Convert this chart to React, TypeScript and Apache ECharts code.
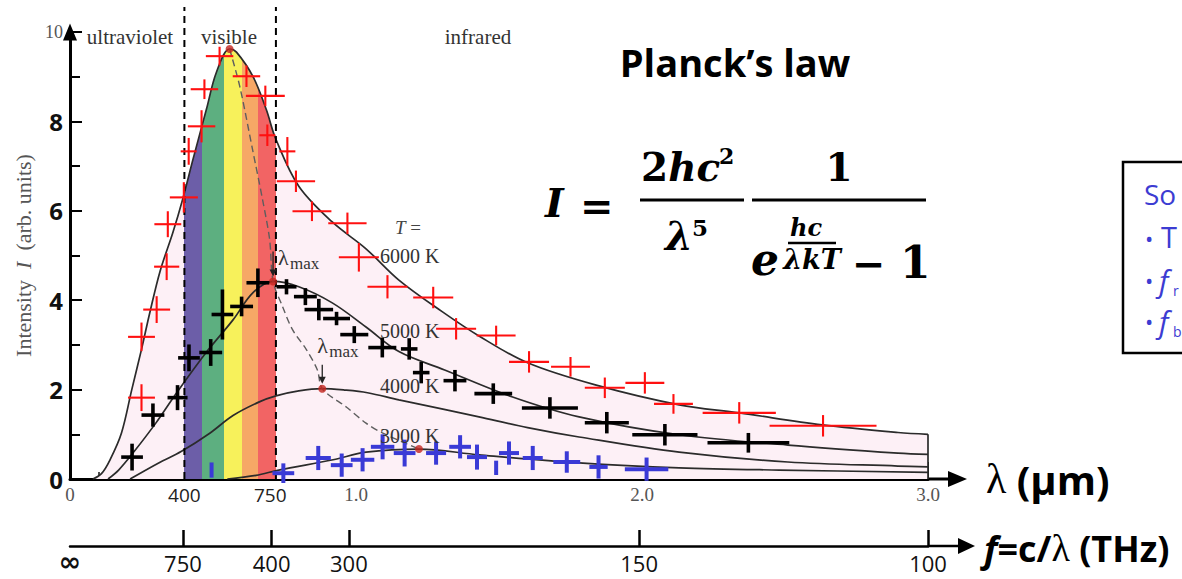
import React, { useEffect, useRef } from "react";
import * as echarts from "echarts";

// ---------------- data ----------------
const temperatureLabels = ["6000 K", "5000 K", "4000 K", "3000 K"];
const regionLabels = ["ultraviolet", "visible", "infrared"];
const xLabelValues = [0, 0.4, 0.7, 1.0, 2.0, 3.0];
const xLabelTexts = ["0", "400", "750", "1.0", "2.0", "3.0"];
const freqLabelValues = [0, 0.395, 0.705, 0.975, 1.99, 3.0];
const freqLabelTexts = ["\u221E", "750", "400", "300", "150", "100"];
const visibleBandEdges = [0.4, 0.46, 0.54, 0.6, 0.656, 0.72];
const dashedLineTop = 10.56;

const curve6000: number[][] = [
  [0.08, 0], [0.11, 0.12], [0.14, 0.43], [0.18, 1.03], [0.216, 2.0], [0.25, 2.9],
  [0.279, 3.72], [0.315, 4.65], [0.36, 5.52], [0.394, 6.26], [0.43, 7.15],
  [0.477, 8.27], [0.512, 9.1], [0.558, 9.62], [0.582, 9.55], [0.64, 9.0],
  [0.686, 8.27], [0.72, 7.6], [0.8, 6.55], [0.917, 5.75], [1.035, 5.15],
  [1.15, 4.45], [1.3, 3.75], [1.43, 3.2], [1.6, 2.6], [1.84, 2.1], [2.13, 1.66],
  [2.34, 1.48], [2.63, 1.21], [2.895, 1.04], [3.0, 1.0],
];
const curve5000: number[][] = [
  [0.133, 0], [0.17, 0.2], [0.22, 0.58], [0.3, 1.25], [0.373, 1.93], [0.476, 2.83],
  [0.57, 3.56], [0.64, 4.17], [0.71, 4.42], [0.8, 4.3], [0.917, 3.94], [1.035, 3.4],
  [1.15, 2.85], [1.31, 2.44], [1.545, 1.84], [1.78, 1.39], [2.13, 0.99],
  [2.51, 0.76], [2.895, 0.58], [3.0, 0.55],
];
const curve4000: number[][] = [
  [0.21, 0], [0.31, 0.36], [0.39, 0.62], [0.49, 1.03], [0.57, 1.42], [0.66, 1.72],
  [0.72, 1.86], [0.8, 1.97], [0.88, 2.02], [0.96, 1.99], [1.04, 1.93], [1.15, 1.77],
  [1.3, 1.57], [1.43, 1.39], [1.6, 1.15], [1.78, 0.94], [2.13, 0.6], [2.51, 0.38],
  [2.895, 0.29], [3.0, 0.27],
];
const curve3000: number[][] = [
  [0.55, 0], [0.65, 0.08], [0.73, 0.2], [0.92, 0.43], [1.035, 0.6], [1.22, 0.67],
  [1.43, 0.54], [1.78, 0.36], [2.13, 0.25], [2.48, 0.2], [3.0, 0.15],
];
const wienLocus: number[][] = [
  [0.558, 9.62], [0.593, 8.8], [0.638, 7.38], [0.673, 6.26], [0.698, 5.36],
  [0.71, 4.42], [0.743, 3.86], [0.778, 3.34], [0.827, 2.89], [0.865, 2.44],
  [0.882, 2.02], [0.966, 1.61], [1.035, 1.25], [1.092, 1.03], [1.22, 0.67],
];
const peaks: number[][] = [[0.558, 9.62], [0.71, 4.42], [0.882, 2.02], [1.22, 0.67]];

// [lambda, intensity, lambda error, intensity error]
const red6000Points: number[][] = [
  [0.25, 1.82, 0.047, 0.3], [0.25, 3.18, 0.047, 0.32], [0.303, 3.79, 0.047, 0.3],
  [0.338, 4.75, 0.044, 0.3], [0.342, 5.7, 0.047, 0.29], [0.398, 6.3, 0.049, 0.34],
  [0.415, 7.33, 0.028, 0.3], [0.46, 7.89, 0.048, 0.36], [0.47, 8.72, 0.048, 0.22],
  [0.523, 9.46, 0.048, 0.21], [0.617, 9.01, 0.048, 0.24], [0.683, 8.57, 0.068, 0.23],
  [0.69, 7.69, 0.028, 0.24], [0.76, 7.33, 0.028, 0.32], [0.79, 6.66, 0.067, 0.24],
  [0.846, 5.99, 0.068, 0.22], [0.97, 5.72, 0.067, 0.24], [1.01, 4.96, 0.07, 0.32],
  [1.11, 4.3, 0.07, 0.26], [1.27, 4.06, 0.07, 0.24], [1.35, 3.36, 0.07, 0.24],
  [1.49, 3.21, 0.068, 0.22], [1.605, 2.62, 0.07, 0.24], [1.75, 2.51, 0.068, 0.22],
  [1.87, 2.04, 0.07, 0.23], [2.01, 2.15, 0.068, 0.24], [2.11, 1.68, 0.068, 0.22],
  [2.34, 1.48, 0.128, 0.24], [2.633, 1.19, 0.187, 0.24],
];
const black5000Points: number[][] = [
  [0.217, 0.49, 0.038, 0.3], [0.29, 1.43, 0.04, 0.26], [0.376, 1.82, 0.035, 0.28],
  [0.416, 2.71, 0.038, 0.3], [0.492, 2.83, 0.04, 0.3], [0.533, 3.68, 0.038, 0.56],
  [0.6, 3.86, 0.04, 0.22], [0.657, 4.39, 0.04, 0.32], [0.757, 4.3, 0.035, 0.17],
  [0.823, 4.08, 0.04, 0.19], [0.87, 3.79, 0.05, 0.24], [0.932, 3.59, 0.047, 0.15],
  [0.994, 3.23, 0.049, 0.19], [1.092, 2.94, 0.049, 0.22], [1.186, 2.91, 0.029, 0.24],
  [1.228, 2.38, 0.029, 0.24], [1.346, 2.2, 0.04, 0.24], [1.48, 1.91, 0.066, 0.23],
  [1.678, 1.59, 0.098, 0.24], [1.877, 1.26, 0.077, 0.24], [2.08, 0.99, 0.114, 0.24],
  [2.372, 0.81, 0.143, 0.22],
];
const blue3000Points: number[][] = [
  [0.495, 0.2, 0, 0.17], [0.746, 0.13, 0.038, 0.22], [0.868, 0.47, 0.044, 0.27],
  [0.95, 0.31, 0.038, 0.26], [1.023, 0.43, 0.041, 0.26], [1.093, 0.72, 0.041, 0.28],
  [1.17, 0.58, 0.038, 0.3], [1.28, 0.58, 0.035, 0.26], [1.364, 0.72, 0.038, 0.26],
  [1.423, 0.49, 0.035, 0.28], [1.49, 0.25, 0, 0.16], [1.535, 0.58, 0.035, 0.26],
  [1.618, 0.47, 0.035, 0.27], [1.737, 0.38, 0.047, 0.24], [1.848, 0.27, 0.032, 0.26],
  [2.016, 0.22, 0.076, 0.26],
];

// ---------------- styles ----------------
const PINK = "#fdf0f6";
const BAND_COLORS = ["#6c5ea8", "#5daf80", "#f7f15b", "#f6a866", "#f26464"];
const CURVE = "#2b2b2b";
const SERIF = "Liberation Serif";
const SANS = "Open Sans";
const MATH = "DejaVu Serif";
const BLUE_TXT = "#3c3cd2";
const SMOOTH = 0.35;

function errorBars(data: number[][], color: string, width: number) {
  return {
    type: "custom",
    data,
    encode: { x: 0, y: 1 },
    z: 10,
    silent: true,
    renderItem: (_p: any, api: any) => {
      const x = api.value(0), y = api.value(1), xe = api.value(2), ye = api.value(3);
      const l = api.coord([x - xe, y]);
      const r = api.coord([x + xe, y]);
      const b = api.coord([x, y - ye]);
      const t = api.coord([x, y + ye]);
      const children: any[] = [];
      if (xe > 0)
        children.push({ type: "line", shape: { x1: l[0], y1: l[1], x2: r[0], y2: r[1] }, style: { stroke: color, lineWidth: width } });
      children.push({ type: "line", shape: { x1: b[0], y1: b[1], x2: t[0], y2: t[1] }, style: { stroke: color, lineWidth: width } });
      return { type: "group", children };
    },
  };
}

function curveSeries(data: number[][]) {
  return {
    type: "line", data, smooth: SMOOTH, showSymbol: false, silent: true, z: 4,
    lineStyle: { color: CURVE, width: 1.7 },
  };
}

function txt(x: number, y: number, text: string, s: any) {
  return {
    type: "text", x, y, silent: true, z: 50,
    style: { text, align: "left", verticalAlign: "middle", fill: "#000", ...s },
  };
}

export default function App() {
  const ref = useRef<HTMLDivElement>(null);
  useEffect(() => {
    if (!ref.current) return;
    const chart = echarts.init(ref.current, null, { renderer: "svg" });
    const pieces: any[] = [{ lt: visibleBandEdges[0], color: PINK }];
    for (let i = 0; i < BAND_COLORS.length; i++) {
      pieces.push({ gte: visibleBandEdges[i], lt: visibleBandEdges[i + 1], color: BAND_COLORS[i] });
    }
    pieces.push({ gte: visibleBandEdges[visibleBandEdges.length - 1], color: PINK });

    const findIdx = (vals: number[], v: number) => vals.findIndex((a) => Math.abs(a - v) < 1e-6);

    const option: any = {
      animation: false,
      backgroundColor: "#ffffff",
      grid: { left: 70, right: 254, top: 32, bottom: 100, containLabel: false },
      visualMap: { type: "piecewise", show: false, dimension: 0, seriesIndex: 0, pieces },
      xAxis: [
        {
          type: "value", min: 0, max: 3, interval: 0.5,
          axisLine: { show: true, onZero: false, lineStyle: { color: "#000", width: 3 } },
          axisTick: { show: true, inside: true, length: 17, lineStyle: { color: "#000", width: 2 } },
          minorTick: { show: true, splitNumber: 5, length: 7, lineStyle: { color: "#222", width: 1.6 } },
          splitLine: { show: false },
          axisLabel: {
            customValues: xLabelValues,
            margin: 6,
            formatter: (v: number) => {
              const i = findIdx(xLabelValues, v);
              if (i < 0) return "";
              return (i === 1 || i === 2 ? "{b|" : "{g|") + xLabelTexts[i] + "}";
            },
            rich: {
              g: { fontFamily: SERIF, fontSize: 19, color: "#555" },
              b: { fontFamily: SANS, fontSize: 19, color: "#222" },
            },
          },
        },
        {
          type: "value", min: 0, max: 3, position: "bottom", offset: 67,
          axisLine: { show: true, onZero: false, lineStyle: { color: "#000", width: 2.5 } },
          axisTick: { show: true, inside: true, length: 16, customValues: freqLabelValues.slice(1), lineStyle: { color: "#000", width: 2.5 } },
          splitLine: { show: false },
          axisLabel: {
            customValues: freqLabelValues,
            margin: 5,
            formatter: (v: number) => {
              const i = findIdx(freqLabelValues, v);
              if (i < 0) return "";
              return (i === 0 ? "{inf|" : "{f|") + freqLabelTexts[i] + "}";
            },
            rich: {
              f: { fontFamily: SANS, fontSize: 22, color: "#111", lineHeight: 24 },
              inf: { fontFamily: "DejaVu Sans", fontSize: 27, fontWeight: "bold", color: "#111", lineHeight: 20 },
            },
          },
        },
      ],
      yAxis: {
        type: "value", min: 0, max: 10, interval: 2,
        axisLine: { show: true, onZero: false, lineStyle: { color: "#000", width: 3 }, symbol: ["none", "triangle"], symbolSize: [14, 17] },
        axisTick: { show: true, inside: true, length: 12, lineStyle: { color: "#000", width: 2 } },
        minorTick: { show: true, splitNumber: 2, length: 10, lineStyle: { color: "#000", width: 2 } },
        splitLine: { show: false },
        axisLabel: {
          margin: 7,
          formatter: (v: number) => (v === 10 ? "{s|10}" : "{b|" + v + "}"),
          rich: {
            b: { fontFamily: SANS, fontWeight: "bold", fontSize: 24, color: "#111" },
            s: { fontFamily: SERIF, fontSize: 18, color: "#555" },
          },
        },
        name: "{n|Intensity  }{i|I}{n|  (arb. units)}",
        nameLocation: "middle",
        nameRotate: 90,
        nameGap: 35,
        nameTextStyle: {
          rich: {
            n: { fontFamily: SERIF, fontSize: 22, color: "#555" },
            i: { fontFamily: SERIF, fontSize: 22, color: "#555", fontStyle: "italic" },
          },
        },
      },
      series: [
        {
          type: "line", data: curve6000, smooth: SMOOTH, showSymbol: false, silent: true, z: 1,
          lineStyle: { width: 0, opacity: 0 }, areaStyle: { opacity: 1 },
        },
        curveSeries(curve6000),
        curveSeries(curve5000),
        curveSeries(curve4000),
        curveSeries(curve3000),
        {
          type: "line", data: wienLocus, smooth: 0.3, showSymbol: false, silent: true, z: 5,
          lineStyle: { color: "#5e5e5e", width: 1.4, type: [7, 4] },
        },
        ...visibleBandEdges.filter((_, i) => i === 0 || i === visibleBandEdges.length - 1).map((lx) => ({
          type: "line", data: [[lx, 0], [lx, dashedLineTop]], clip: false, showSymbol: false, silent: true, z: 6,
          lineStyle: { color: "#000", width: 2, type: [7, 5] },
        })),
        {
          type: "line", data: [[3, 0], curve6000[curve6000.length - 1]], showSymbol: false, silent: true, z: 4,
          lineStyle: { color: CURVE, width: 1.7 },
        },
        {
          type: "scatter", data: peaks, symbolSize: 8, silent: true, z: 8,
          itemStyle: { color: "#c4261f" },
        },
        errorBars(red6000Points, "#ff1010", 2.1),
        errorBars(black5000Points, "#000", 3.6),
        errorBars(blue3000Points, "#3a3ad6", 4),
      ],
    };
    chart.setOption(option);

    const p = (x: number, y: number) => chart.convertToPixel({ xAxisIndex: 0, yAxisIndex: 0 }, [x, y]) as number[];
    const o = p(0, 0);
    const e = p(3, 0);
    const fy = o[1] + 67;
    const pk5 = p(peaks[1][0], peaks[1][1]);
    const pk4 = p(peaks[2][0], peaks[2][1]);
    const mathB = { fontFamily: MATH, fontWeight: "bold", fontStyle: "italic" };
    const mathU = { fontFamily: MATH, fontWeight: "bold" };

    const arrowDown = (x: number, y1: number, y2: number) => [
      { type: "line", silent: true, z: 40, shape: { x1: x, y1, x2: x, y2: y2 - 4 }, style: { stroke: "#222", lineWidth: 1.3 } },
      { type: "polygon", silent: true, z: 40, shape: { points: [[x - 3.5, y2 - 7], [x + 3.5, y2 - 7], [x, y2]] }, style: { fill: "#222" } },
    ];

    const graphics: any[] = [
      // axis extensions with arrows
      { type: "line", silent: true, shape: { x1: e[0], y1: e[1], x2: e[0] + 22, y2: e[1] }, style: { stroke: "#000", lineWidth: 3 } },
      { type: "polygon", silent: true, shape: { points: [[e[0] + 20, e[1] - 8], [e[0] + 39, e[1]], [e[0] + 20, e[1] + 8]] }, style: { fill: "#000" } },
      { type: "line", silent: true, shape: { x1: e[0], y1: fy, x2: e[0] + 32, y2: fy }, style: { stroke: "#000", lineWidth: 2.5 } },
      { type: "polygon", silent: true, shape: { points: [[e[0] + 30, fy - 8], [e[0] + 47, fy], [e[0] + 30, fy + 8]] }, style: { fill: "#000" } },
      // axis titles
      txt(e[0] + 58, o[1], "", {
        text: "{l|\u03BB}{t| (\u03BCm)}",
        rich: {
          l: { fontFamily: SERIF, fontSize: 42, fill: "#000" },
          t: { fontFamily: SANS, fontWeight: "bold", fontSize: 40, fill: "#000" },
        },
      }),
      txt(e[0] + 56, fy + 2, "", {
        text: "{f|f}{t|=c/}{l|\u03BB}{t| (THz)}",
        rich: {
          f: { fontFamily: SANS, fontWeight: "bold", fontStyle: "italic", fontSize: 36, fill: "#000" },
          t: { fontFamily: SANS, fontWeight: "bold", fontSize: 36, fill: "#000" },
          l: { fontFamily: SERIF, fontSize: 38, fill: "#000" },
        },
      }),
      // region labels
      txt(130, 37, regionLabels[0], { fontFamily: SERIF, fontSize: 21, fill: "#333", align: "center" }),
      txt(229, 37, regionLabels[1], { fontFamily: SERIF, fontSize: 21, fill: "#333", align: "center" }),
      txt(478, 37, regionLabels[2], { fontFamily: SERIF, fontSize: 21, fill: "#333", align: "center" }),
      // temperature labels
      txt(395, 227, "", {
        text: "{i|T}{n| =}",
        rich: { i: { fontFamily: SERIF, fontStyle: "italic", fontSize: 19, fill: "#444" }, n: { fontFamily: SERIF, fontSize: 19, fill: "#444" } },
      }),
      txt(380, 256, temperatureLabels[0], { fontFamily: SERIF, fontSize: 20, fill: "#333" }),
      txt(380, 331, temperatureLabels[1], { fontFamily: SERIF, fontSize: 20, fill: "#333" }),
      txt(380, 386, temperatureLabels[2], { fontFamily: SERIF, fontSize: 20, fill: "#333" }),
      txt(380, 436, temperatureLabels[3], { fontFamily: SERIF, fontSize: 20, fill: "#333" }),
      // lambda max labels
      ...arrowDown(pk5[0], pk5[1] - 30, pk5[1] - 5),
      txt(pk5[0] + 5, pk5[1] - 24, "\u03BB", { fontFamily: SERIF, fontSize: 22, fill: "#333" }),
      txt(pk5[0] + 17, pk5[1] - 18, "max", { fontFamily: SERIF, fontSize: 17, fill: "#333" }),
      ...arrowDown(pk4[0], pk4[1] - 24, pk4[1] - 5),
      txt(pk4[0] - 5, pk4[1] - 43, "\u03BB", { fontFamily: SERIF, fontSize: 22, fill: "#333" }),
      txt(pk4[0] + 7, pk4[1] - 37, "max", { fontFamily: SERIF, fontSize: 17, fill: "#333" }),
      // title
      txt(735, 62, "Planck\u2019s law", { fontFamily: SANS, fontWeight: "bold", fontSize: 38, align: "center" }),
      // formula
      txt(545, 202, "I", { ...mathB, fontSize: 40 }),
      txt(580, 205, "=", { ...mathU, fontSize: 40 }),
      { type: "line", silent: true, shape: { x1: 640, y1: 200, x2: 744, y2: 200 }, style: { stroke: "#000", lineWidth: 3 } },
      txt(641, 167, "", { text: "{u|2}{i|hc}", rich: { u: { ...mathU, fontSize: 39 }, i: { ...mathB, fontSize: 39 } } }),
      txt(719, 156, "2", { ...mathU, fontSize: 22 }),
      txt(665, 235, "\u03BB", { ...mathB, fontSize: 40 }),
      txt(692, 227, "5", { ...mathU, fontSize: 23 }),
      { type: "line", silent: true, shape: { x1: 752, y1: 200, x2: 926, y2: 200 }, style: { stroke: "#000", lineWidth: 3 } },
      txt(839, 167, "1", { ...mathU, fontSize: 39, align: "center" }),
      txt(751, 259, "e", { ...mathB, fontSize: 44 }),
      txt(806, 227, "hc", { ...mathB, fontSize: 24, align: "center" }),
      { type: "line", silent: true, shape: { x1: 788, y1: 243, x2: 836, y2: 243 }, style: { stroke: "#000", lineWidth: 2.5 } },
      txt(812, 259, "\u03BBkT", { ...mathB, fontSize: 27, align: "center" }),
      txt(852, 263, "\u2212", { ...mathU, fontSize: 40 }),
      txt(900, 262, "1", { ...mathU, fontSize: 44 }),
      // side box (cut by the edge)
      { type: "rect", silent: true, shape: { x: 1123, y: 162, width: 120, height: 191 }, style: { fill: "none", stroke: "#000", lineWidth: 2.5 } },
      txt(1144, 194, "So", { fontFamily: SANS, fontSize: 28, fill: BLUE_TXT }),
      txt(1145, 238, "\u2022", { fontFamily: SANS, fontSize: 22, fill: BLUE_TXT }),
      txt(1161, 236, "T", { fontFamily: SANS, fontSize: 29, fill: BLUE_TXT }),
      txt(1145, 280, "\u2022", { fontFamily: SANS, fontSize: 22, fill: BLUE_TXT }),
      txt(1159, 280, "f", { fontFamily: SANS, fontStyle: "italic", fontSize: 30, fill: BLUE_TXT }),
      txt(1173, 290, "r", { fontFamily: SANS, fontSize: 14, fill: BLUE_TXT }),
      txt(1145, 321, "\u2022", { fontFamily: SANS, fontSize: 22, fill: BLUE_TXT }),
      txt(1159, 321, "f", { fontFamily: SANS, fontStyle: "italic", fontSize: 30, fill: BLUE_TXT }),
      txt(1173, 331, "b", { fontFamily: SANS, fontSize: 14, fill: BLUE_TXT }),
    ];
    chart.setOption({ graphic: graphics });

    return () => chart.dispose();
  }, []);
  return (
    <div
      ref={ref}
      style={{ position: "fixed", left: 0, top: 0, width: 1182, height: 579, background: "#fff" }}
    />
  );
}
